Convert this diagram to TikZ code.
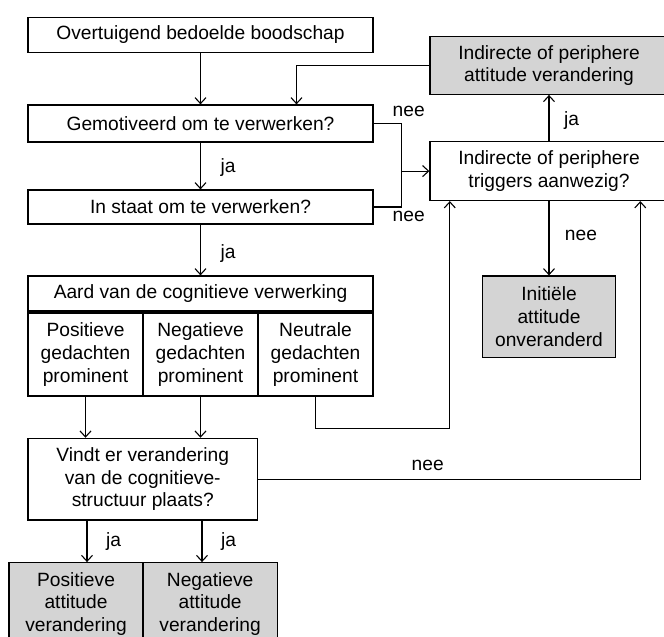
\documentclass[tikz,border=0pt]{standalone}
\usepackage{fontspec}
\setmainfont{Liberation Sans}
\usetikzlibrary{arrows.meta}
\definecolor{boxgray}{RGB}{212,212,212}
\begin{document}
\begin{tikzpicture}[x=1pt,y=-1pt,
  every node/.style={font=\fontsize{19.2}{22.8}\selectfont},
  box/.style={draw, line width=1.2pt, inner sep=0pt, align=center},
  grey/.style={box, fill=boxgray},
  arr/.style={line width=1.1pt, -{Straight Barb[length=6pt,width=11pt,line width=1.1pt]}},
  ln/.style={line width=1.1pt},
  lab/.style={inner sep=0pt, anchor=center}]
\useasboundingbox (0,0) rectangle (664,637);
\fill[white] (0,0) rectangle (664,637);
% left column
\node[box, minimum width=345pt, minimum height=35pt] (b1) at (200.5,34.8) {Overtuigend bedoelde boodschap};
\node[box, minimum width=345pt, minimum height=37pt] (b2) at (200.5,123.5) {Gemotiveerd om te verwerken?};
\node[box, minimum width=345pt, minimum height=34pt] (b3) at (200.5,207) {In staat om te verwerken?};
\node[box, minimum width=345pt, minimum height=35pt] (b4) at (200.5,293.5) {Aard van de cognitieve verwerking};
\node[box, minimum width=115pt, minimum height=83pt] (pos) at (85.5,354.5) {Positieve\\gedachten\\prominent};
\node[box, minimum width=115pt, minimum height=83pt] (neg) at (200.5,354.5) {Negatieve\\gedachten\\prominent};
\node[box, minimum width=115pt, minimum height=83pt] (neu) at (315.5,354.5) {Neutrale\\gedachten\\prominent};
\node[box, minimum width=229.5pt, minimum height=81.7pt] (vindt) at (142.75,479.2) {Vindt er verandering\\van de cognitieve-\\structuur plaats?};
\node[grey, minimum width=134pt, minimum height=82.3pt] (posatt) at (76,603.85) {Positieve\\attitude\\verandering};
\node[grey, minimum width=134.3pt, minimum height=82.3pt] (negatt) at (210.15,603.85) {Negatieve\\attitude\\verandering};
% right column
\node[grey, minimum width=238pt, minimum height=57.6pt] (att) at (549,65.5) {Indirecte of periphere\\attitude verandering};
\node[box, minimum width=238pt, minimum height=58.8pt] (trig) at (549,171.1) {Indirecte of periphere\\triggers aanwezig?};
\node[grey, minimum width=133.4pt, minimum height=81.3pt] (init) at (549,316.65) {Initiële\\attitude\\onveranderd};
% helper coordinates
\coordinate (fb) at (296.5,65.5);
\coordinate (j) at (401.5,171.1);
\coordinate (n1) at (449.8,428.3);
\coordinate (n2) at (640.3,479.2);
% connectors
\draw[arr] (b1) -- (b2);
\draw[arr] (att.west) -- (fb) -- (fb |- b2.north);
\draw[arr] (b2) -- (b3);
\draw[arr] (b3) -- (b4);
\draw[ln] (b2.east) -| (j);
\draw[ln] (b3.east) -| (j);
\draw[arr] (j) -- (trig.west);
\draw[arr] (trig.north) -- (att.south);
\draw[arr] (trig.south) -- (init.north);
\draw[arr] (neu.south) |- (n1) -- (n1 |- trig.south);
\draw[arr] (vindt.east) -- (n2) -- (n2 |- trig.south);
\draw[arr] (pos.south) -- (pos.south |- vindt.north);
\draw[arr] (neg.south) -- (neg.south |- vindt.north);
\coordinate (v1) at (87,520.05);
\coordinate (v2) at (202,520.05);
\draw[arr] (v1) -- (v1 |- posatt.north);
\draw[arr] (v2) -- (v2 |- negatt.north);
% labels
\node[lab] (l1) at (228,168) {ja};
\node[lab] (l2) at (228,254) {ja};
\node[lab] (l3) at (408.7,111.7) {nee};
\node[lab] (l4) at (408.7,216) {nee};
\node[lab] (l5) at (571.7,120.7) {ja};
\node[lab] (l6) at (581,235) {nee};
\node[lab] (l7) at (427.7,465) {nee};
\node[lab] (l8) at (113.5,541.7) {ja};
\node[lab] (l9) at (228.7,541.7) {ja};
\end{tikzpicture}
\end{document}
